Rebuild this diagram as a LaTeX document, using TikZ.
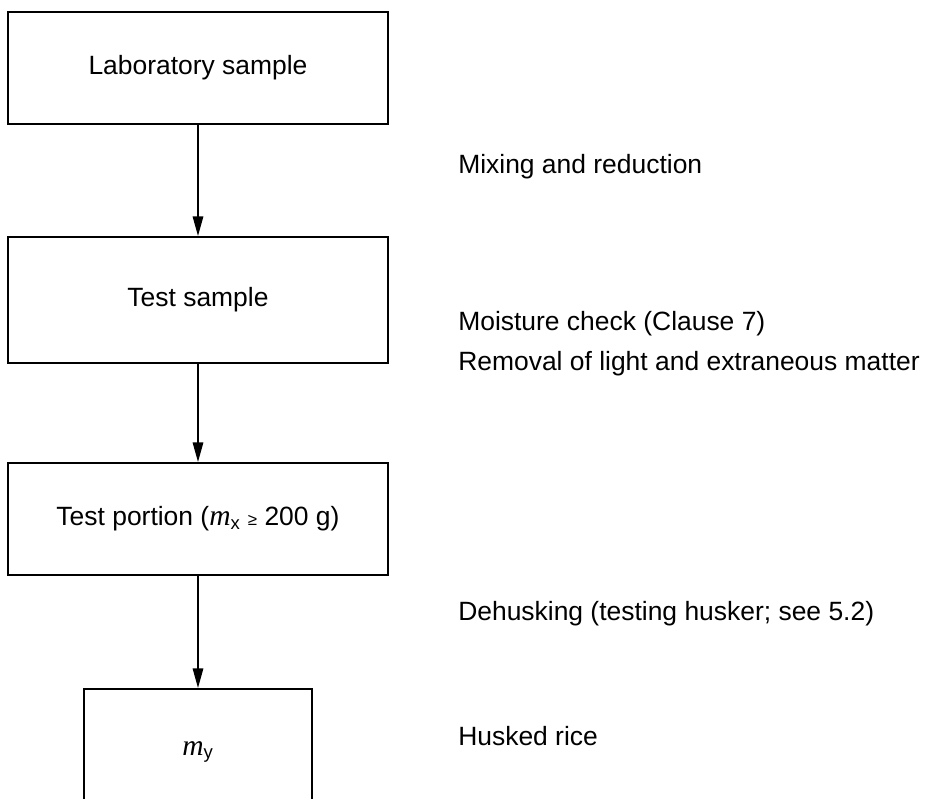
\documentclass[tikz,border=0pt]{standalone}
\usepackage{fontspec}
\setmainfont{Liberation Sans}
\newfontfamily\timesfont{Liberation Serif}
\usetikzlibrary{arrows.meta}
\newcommand{\massof}[1]{{\timesfont\itshape\fontsize{21}{22}\selectfont m}\textsubscript{#1}}

\begin{document}
\begin{tikzpicture}[x=0.025cm,y=-0.025cm,
        box/.style={draw,line width=1.4pt,inner sep=0pt,font=\fontsize{18.8}{22}\selectfont},
        flow/.style={line width=1.1pt,-{Triangle[length=14pt,width=7.5pt]}},
        note/.style={anchor=west,inner sep=0pt,font=\fontsize{18.8}{22}\selectfont}]
        \useasboundingbox (0,0) rectangle (929,798);
        \clip (0,0) rectangle (929,798);
        \node[box,minimum width=9.475cm,minimum height=2.8cm] (lab) at (198,68) {Laboratory sample};
        \node[box,minimum width=9.475cm,minimum height=3.15cm] (test) at (198,300) {Test sample};
        \node[box,minimum width=9.475cm,minimum height=2.8cm] (portion) at (198,519) {Test portion (\massof{x} {\fontsize{12}{14}\selectfont ≥} 200 g)};
        \node[box,minimum width=5.675cm,minimum height=3.15cm] (husked) at (198,752) {\massof{y}};
        \draw[flow] (lab) -- (test);
        \draw[flow] (test) -- (portion);
        \draw[flow] (portion) -- (husked);
        \node[note] (mix) at (458,167) {Mixing and reduction};
        \node[note] (moist) at (458,324) {Moisture check (Clause 7)};
        \node[note] (light) at (458,364) {Removal of light and extraneous matter};
        \node[note] (dehusk) at (458,614) {Dehusking (testing husker; see 5.2)};
        \node[note] (rice) at (458,736) {Husked rice};
    \end{tikzpicture}
\end{document}
